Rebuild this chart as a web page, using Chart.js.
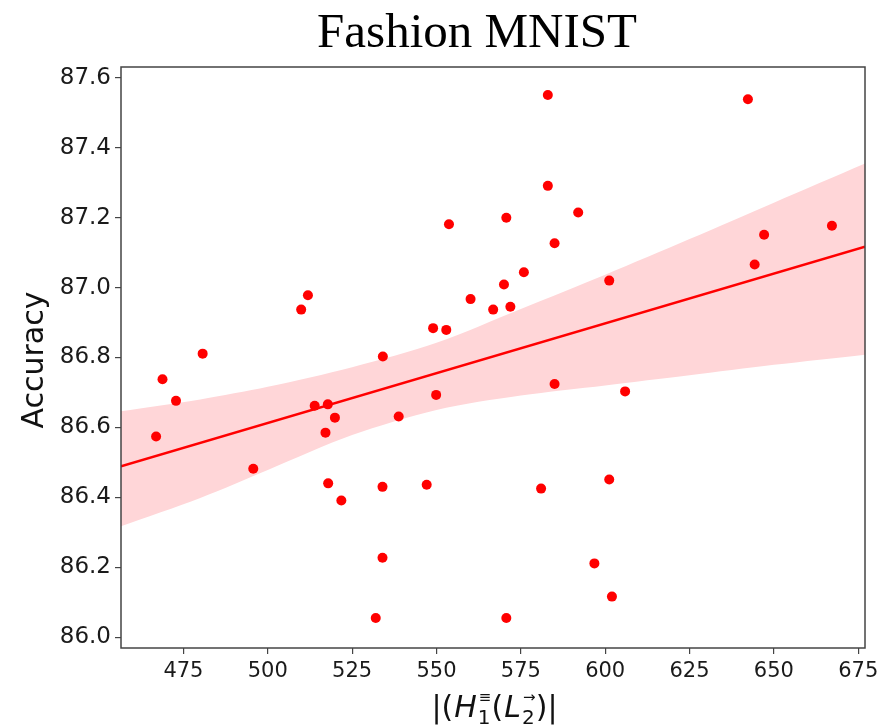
<!DOCTYPE html>
<html>
<head>
<meta charset="utf-8">
<script src="https://cdn.jsdelivr.net/npm/chart.js@4.4.1/dist/chart.umd.min.js"></script>
<style>
  body { margin: 0; background: #fff; }
  canvas { display: block; }
</style>
</head>
<body>
<canvas id="chart" width="889" height="728"></canvas>
<script>
// scatter points
var pointX = [466.9, 468.8, 472.8, 480.7, 495.7, 509.9, 511.9, 513.9, 517.1, 517.8,
              517.9, 519.9, 521.8, 532.0, 534.1, 534.0, 534.0, 538.8, 547.1, 549.0,
              549.9, 552.9, 553.7, 560.1, 566.8, 570.0, 570.7, 570.7, 571.9, 575.9,
              581.0, 583.0, 583.0, 585.0, 585.0, 592.0, 596.8, 601.2, 601.2, 602.0,
              605.9, 642.3, 644.3, 647.1, 667.2];
var pointY = [86.574, 86.738, 86.676, 86.811, 86.482, 86.937, 86.978, 86.662, 86.585, 86.666,
              86.440, 86.628, 86.391, 86.055, 86.803, 86.430, 86.227, 86.631, 86.436, 86.884,
              86.693, 86.879, 87.181, 86.967, 86.937, 87.009, 87.200, 86.055, 86.945, 87.044,
              86.425, 87.551, 87.291, 86.724, 87.127, 87.215, 86.211, 87.020, 86.451, 86.116,
              86.703, 87.539, 87.066, 87.151, 87.177];

// regression line ends
var fitX = [456.5, 677];
var fitY = [86.489, 87.117];

// confidence band edges
var bandX     = [456.5, 480, 500, 525, 550, 575, 600, 625, 650, 677];
var bandUpper = [86.646, 86.680, 86.716, 86.772, 86.842, 86.939, 87.037, 87.139, 87.243, 87.355];
var bandLower = [86.317, 86.398, 86.478, 86.578, 86.650, 86.691, 86.720, 86.749, 86.779, 86.808];

var xTicks = [475, 500, 525, 550, 575, 600, 625, 650, 675];
var yTicks = [86.0, 86.2, 86.4, 86.6, 86.8, 87.0, 87.2, 87.4, 87.6];

function pairs(xs, ys) {
    return xs.map(function(x, i) { return { x: x, y: ys[i] }; });
}

// title, axis labels and frame
var decorPlugin = {
    id: 'decor',
    afterDraw: function(chart) {
        var ctx = chart.ctx;
        var area = chart.chartArea;
        ctx.save();

        // frame
        ctx.strokeStyle = '#444';
        ctx.lineWidth = 1.5;
        ctx.strokeRect(area.left, area.top, area.right - area.left, area.bottom - area.top);

        // title
        ctx.fillStyle = '#000';
        ctx.font = '49px "Liberation Serif"';
        ctx.textAlign = 'center';
        ctx.textBaseline = 'alphabetic';
        ctx.fillText('Fashion MNIST', 477, 47);

        // y label
        ctx.save();
        ctx.translate(35, 360);
        ctx.rotate(-Math.PI / 2);
        ctx.font = '30px "DejaVu Sans"';
        ctx.textBaseline = 'middle';
        ctx.fillStyle = '#111';
        ctx.fillText('Accuracy', 0, 0);
        ctx.restore();

        // x label: |(H_1^{=}(L_2^{→})|
        var big = '30px "DejaVu Sans"';
        var bigIt = 'italic 30px "DejaVu Sans"';
        var small = '20px "DejaVu Sans"';
        var tiny = '15px "DejaVu Sans"';
        var parts = [
            { t: '|(', f: big, dy: 0 },
            { t: 'H', f: bigIt, dy: 0 },
            { t: '1', f: small, dy: 7, sup: '\u2261' },
            { t: '(', f: big, dy: 0 },
            { t: 'L', f: bigIt, dy: 0 },
            { t: '2', f: small, dy: 7, sup: '\u2192' },
            { t: ')|', f: big, dy: 0 }
        ];
        ctx.textAlign = 'left';
        ctx.fillStyle = '#111';
        var total = 0;
        parts.forEach(function(p) {
            ctx.font = p.f;
            p.w = ctx.measureText(p.t).width + 1;
            if (p.sup) {
                ctx.font = tiny;
                p.w = Math.max(p.w, ctx.measureText(p.sup).width + 1);
            }
            total += p.w;
        });
        var x = 495 - total / 2;
        var base = 717;
        parts.forEach(function(p) {
            ctx.font = p.f;
            ctx.fillText(p.t, x, base + p.dy);
            if (p.sup) {
                ctx.font = tiny;
                ctx.fillText(p.sup, x + 1, base - 15);
            }
            x += p.w;
        });

        ctx.restore();
    }
};

var ctx = document.getElementById('chart').getContext('2d');
var chart = new Chart(ctx, {
    type: 'scatter',
    data: {
        datasets: [
            {
                label: 'points',
                data: pairs(pointX, pointY),
                backgroundColor: '#ff0000',
                borderColor: '#ff0000',
                pointRadius: 5,
                borderWidth: 0,
                order: 0
            },
            {
                label: 'fit',
                data: pairs(fitX, fitY),
                showLine: true,
                borderColor: '#ff0000',
                borderWidth: 2.5,
                pointRadius: 0,
                fill: false,
                order: 1
            },
            {
                label: 'upper',
                data: pairs(bandX, bandUpper),
                showLine: true,
                tension: 0.3,
                borderWidth: 0,
                borderColor: 'rgba(0,0,0,0)',
                backgroundColor: '#ffd6d8',
                pointRadius: 0,
                fill: 3,
                order: 2
            },
            {
                label: 'lower',
                data: pairs(bandX, bandLower),
                showLine: true,
                tension: 0.3,
                borderWidth: 0,
                borderColor: 'rgba(0,0,0,0)',
                pointRadius: 0,
                fill: false,
                order: 3
            }
        ]
    },
    options: {
        responsive: false,
        animation: false,
        events: [],
        layout: { padding: { top: 67, right: 24, left: 0, bottom: 0 } },
        plugins: {
            legend: { display: false },
            tooltip: { enabled: false },
            title: { display: false }
        },
        scales: {
            x: {
                type: 'linear',
                min: 456.5,
                max: 677,
                afterBuildTicks: function(scale) {
                    scale.ticks = xTicks.map(function(v) { return { value: v }; });
                },
                afterFit: function(scale) { scale.height = 80; },
                grid: { display: true, drawOnChartArea: false, drawTicks: true, tickLength: 6, color: '#444', lineWidth: 1.2 },
                border: { display: false },
                ticks: {
                    color: '#1a1a1a',
                    font: { family: '"DejaVu Sans"', size: 21 },
                    padding: 5,
                    maxRotation: 0,
                    callback: function(v) { return String(v); }
                }
            },
            y: {
                type: 'linear',
                min: 85.969,
                max: 87.631,
                afterBuildTicks: function(scale) {
                    scale.ticks = yTicks.map(function(v) { return { value: v }; });
                },
                afterFit: function(scale) { scale.width = 121; },
                grid: { display: true, drawOnChartArea: false, drawTicks: true, tickLength: 6, color: '#444', lineWidth: 1.2 },
                border: { display: false },
                ticks: {
                    color: '#1a1a1a',
                    font: { family: '"DejaVu Sans"', size: 23 },
                    padding: 4,
                    callback: function(v) { return Number(v).toFixed(1); }
                }
            }
        }
    },
    plugins: [decorPlugin]
});
</script>
</body>
</html>
